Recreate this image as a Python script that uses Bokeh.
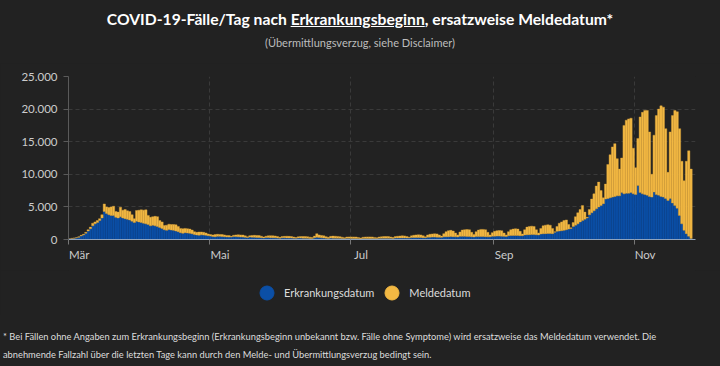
import pandas as pd
from bokeh.plotting import figure
from bokeh.models import (ColumnDataSource, FixedTicker, Range1d, Legend,
                          LegendItem, Div)
from bokeh.layouts import column
from bokeh.embed import file_html
from bokeh.resources import INLINE

# ---------------- data ----------------
start_date = "2020-03-01"

# cases with known onset date (blue, bottom of stack)
erkrankung = [
    100, 150, 200, 260, 360, 550, 700,
    950, 1300, 1650, 2100, 2400, 2600, 2900,
    3300, 4300, 4000, 3800, 3700, 3700, 3400,
    3300, 3500, 3300, 3200, 3100, 3000, 2800,
    2600, 2800, 2700, 2600, 2500, 2400, 2300,
    2100, 2200, 2100, 2000, 1850, 1700, 1500,
    1400, 1550, 1450, 1400, 1300, 1200, 1050,
    950, 1050, 1000, 950, 880, 780, 700,
    650, 720, 680, 640, 580, 520, 460,
    430, 500, 480, 460, 430, 400, 370,
    380, 470, 450, 420, 400, 370, 330,
    300, 380, 360, 340, 320, 300, 270,
    240, 310, 300, 280, 270, 250, 220,
    200, 260, 250, 240, 230, 220, 200,
    180, 230, 220, 210, 200, 190, 170,
    170, 260, 350, 300, 250, 220, 190,
    170, 220, 210, 200, 190, 180, 160,
    150, 190, 180, 170, 160, 150, 140,
    130, 170, 170, 170, 160, 160, 150,
    140, 180, 180, 190, 190, 190, 180,
    170, 220, 230, 240, 240, 240, 230,
    220, 290, 300, 310, 310, 300, 280,
    270, 350, 360, 370, 370, 360, 340,
    330, 420, 430, 440, 450, 440, 410,
    400, 480, 480, 480, 470, 460, 420,
    400, 470, 470, 460, 450, 440, 410,
    420, 500, 510, 520, 520, 510, 480,
    470, 580, 600, 620, 630, 620, 590,
    580, 700, 720, 740, 750, 750, 720,
    700, 850, 880, 900, 920, 930, 900,
    1100, 1250, 1300, 1350, 1400, 1500, 1600,
    1700, 2000, 2200, 2400, 2700, 2900, 3100,
    3300, 3800, 4100, 4400, 4700, 5000, 5200,
    5500, 6200, 6300, 6400, 6500, 6600, 6700,
    6700, 7200, 7000, 7100, 7100, 7200, 7000,
    6900, 8300, 7200, 7000, 6900, 6800, 6600,
    6500, 7300, 6900, 6800, 6600, 6500, 6300,
    6000, 6300, 5600, 5200, 4800, 3700, 2400,
    1400, 900, 500, 150,
]

# total cases per day (top of the yellow "Meldedatum" part)
gesamt = [
    120, 180, 230, 300, 420, 650, 800,
    1100, 1500, 1900, 2500, 2700, 2900, 3200,
    3800, 5450, 5000, 4900, 5000, 5100, 4300,
    4200, 4950, 4500, 4600, 4400, 4300, 3800,
    3200, 4450, 4500, 4550, 4500, 4550, 3700,
    3400, 3500, 3550, 3500, 2900, 2700, 2150,
    2200, 2350, 2300, 2300, 2250, 2000, 1700,
    1650, 1700, 1650, 1600, 1450, 1200, 1100,
    1150, 1150, 1100, 1000, 850, 750, 700,
    750, 800, 780, 760, 700, 620, 600,
    480, 650, 700, 720, 700, 680, 560,
    420, 580, 620, 640, 620, 600, 500,
    380, 500, 560, 580, 560, 540, 450,
    330, 450, 480, 500, 480, 460, 380,
    300, 420, 450, 460, 450, 430, 360,
    320, 520, 880, 700, 620, 560, 440,
    330, 480, 520, 500, 470, 440, 350,
    260, 380, 400, 400, 390, 380, 300,
    230, 340, 380, 400, 400, 390, 320,
    260, 380, 420, 450, 460, 450, 380,
    300, 450, 500, 540, 560, 550, 460,
    350, 560, 650, 700, 720, 700, 580,
    420, 700, 800, 850, 870, 860, 700,
    520, 900, 1200, 1350, 1400, 1300, 1000,
    700, 1150, 1450, 1500, 1530, 1500, 1100,
    750, 1200, 1450, 1550, 1550, 1500, 1100,
    700, 1050, 1250, 1350, 1380, 1350, 1000,
    700, 1200, 1500, 1600, 1650, 1600, 1250,
    850, 1500, 1900, 2000, 2050, 2000, 1500,
    1000, 1700, 2100, 2200, 2250, 2200, 1700,
    1200, 2000, 2500, 2700, 2900, 3000, 2300,
    1800, 2600, 3500, 4100, 4600, 5200, 4200,
    3400, 4600, 6200, 7000, 8200, 8800, 7500,
    6400, 8500, 11500, 13000, 14200, 14700, 12400,
    10800, 12500, 17500, 18300, 18500, 18600, 14000,
    11000, 15500, 18800, 19500, 19800, 19800, 16500,
    10000, 16000, 19000, 20000, 20500, 20300, 17000,
    10300, 16500, 19000, 19800, 19600, 17000, 12000,
    9000, 12000, 13600, 10800,
]

month_ticks = ["2020-03-01", "2020-05-01", "2020-07-01", "2020-09-01", "2020-11-01"]
month_labels = ["Mär", "Mai", "Jul", "Sep", "Nov"]
y_ticks = [0, 5000, 10000, 15000, 20000, 25000]
y_labels = ["0", "5.000", "10.000", "15.000", "20.000", "25.000"]

series_names = ["Erkrankungsdatum", "Meldedatum"]
title_pre = "COVID-19-Fälle/Tag nach "
title_link = "Erkrankungsbeginn"
title_post = ", ersatzweise Meldedatum*"
subtitle = "(Übermittlungsverzug, siehe Disclaimer)"
footnote_1 = ("* Bei Fällen ohne Angaben zum Erkrankungsbeginn (Erkrankungsbeginn unbekannt bzw. "
              "Fälle ohne Symptome) wird ersatzweise das Meldedatum verwendet. Die")
footnote_2 = "abnehmende Fallzahl über die letzten Tage kann durch den Melde- und Übermittlungsverzug bedingt sein."

# ---------------- styling ----------------
BG = "#222222"
BLUE = "#0b4fa6"
YELLOW = "#f2b843"
FONT = "Lato"
DAY_MS = 24 * 60 * 60 * 1000
LABEL_SHIFT_DAYS = 4.6   # month labels sit to the right of their tick

dates = pd.date_range(start_date, periods=len(gesamt), freq="D") + pd.Timedelta(hours=12)
src = ColumnDataSource(dict(datum=dates, erkrankung=erkrankung, gesamt=gesamt))

p = figure(width=720, height=207, x_axis_type="datetime",
           x_range=Range1d(pd.Timestamp("2020-03-01"), pd.Timestamp("2020-11-27 10:00")),
           y_range=Range1d(0, 25000),
           output_backend="svg", toolbar_location=None,
           background_fill_color=BG, border_fill_color=BG, outline_line_color=None,
           min_border_left=68, min_border_right=25, min_border_top=13, min_border_bottom=31)

p.vbar(x="datum", width=DAY_MS, bottom=0, top="erkrankung", source=src,
       fill_color=BLUE, line_color="#0a4594", line_width=0.4)
p.vbar(x="datum", width=DAY_MS, bottom="erkrankung", top="gesamt", source=src,
       fill_color=YELLOW, line_color="#dba23a", line_width=0.4)

# x axis: tick marks + grid at month starts, labels just right of them
tick_ms = [pd.Timestamp(d).value // 10**6 for d in month_ticks]
label_ms = [int(t + LABEL_SHIFT_DAYS * DAY_MS) for t in tick_ms]
p.xaxis.ticker = FixedTicker(ticks=label_ms, minor_ticks=tick_ms)
p.xaxis.major_label_overrides = {t: lab for t, lab in zip(label_ms, month_labels)}
p.xgrid.ticker = FixedTicker(ticks=tick_ms)
p.xaxis.axis_line_color = "#8fa3bd"
p.xaxis.major_tick_line_color = None
p.xaxis.major_tick_out = 5
p.xaxis.major_tick_in = 0
p.xaxis.minor_tick_line_color = "#777777"
p.xaxis.minor_tick_out = 5
p.xaxis.minor_tick_in = 0
p.xaxis.major_label_standoff = 3

# y axis
p.yaxis.ticker = FixedTicker(ticks=y_ticks)
p.yaxis.major_label_overrides = {t: lab for t, lab in zip(y_ticks, y_labels)}
p.yaxis.axis_line_color = "#5a5a5a"
p.yaxis.major_tick_line_color = "#5a5a5a"
p.yaxis.major_tick_out = 5
p.yaxis.major_tick_in = 0
p.yaxis.minor_tick_line_color = None
p.yaxis.major_label_standoff = 6

for ax in (p.xaxis, p.yaxis):
    ax.major_label_text_color = "#cccccc"
    ax.major_label_text_font = FONT
    ax.major_label_text_font_size = "11.5px"

for g in (p.xgrid, p.ygrid):
    g.grid_line_color = "#3a3a3a"
    g.grid_line_dash = "4 3"
    g.grid_line_width = 1

# legend strip (own small figure so the legend is not clipped);
# the two marker renderers hold one point outside the strip's visible range
lg = figure(width=720, height=45, x_range=Range1d(0, 1), y_range=Range1d(0, 1),
            output_backend="svg", toolbar_location=None,
            x_axis_location=None, y_axis_location=None,
            background_fill_color=BG, border_fill_color=BG, outline_line_color=None,
            min_border_left=0, min_border_right=0, min_border_top=0, min_border_bottom=0)
lg.xgrid.visible = False
lg.ygrid.visible = False
r1 = lg.scatter(x=[0.5], y=[-5], marker="circle", size=14, fill_color=BLUE, line_color=BLUE)
r2 = lg.scatter(x=[0.5], y=[-5], marker="circle", size=14, fill_color=YELLOW, line_color=YELLOW)
legend = Legend(items=[LegendItem(label=series_names[0], renderers=[r1]),
                       LegendItem(label=series_names[1], renderers=[r2])],
                location=(181, 5), orientation="horizontal",
                glyph_width=35, glyph_height=35, label_standoff=0, spacing=0,
                padding=0, margin=0, background_fill_alpha=0, border_line_color=None,
                label_text_color="#dddddd", label_text_font=FONT,
                label_text_font_size="11px")
lg.add_layout(legend, "center")

title_html = (
    '<div style="position:relative;width:720px;height:63px;">'
    '<div style="position:absolute;top:10px;left:0;width:720px;text-align:center;'
    f'line-height:18px;font-family:{FONT};font-weight:bold;font-size:15.7px;color:#ffffff;">'
    f'{title_pre}<span style="text-decoration:underline;">{title_link}</span>{title_post}</div>'
    '<div style="position:absolute;top:36px;left:0;width:720px;text-align:center;'
    f'line-height:14px;font-family:{FONT};font-size:11px;color:#bdbdbd;">{subtitle}</div>'
    '</div>'
)
title_div = Div(text=title_html, width=720, height=63, margin=0,
                styles={"background-color": BG})

foot_html = (
    '<div style="padding-left:3px;padding-top:13px;white-space:nowrap;'
    f'line-height:18px;font-family:{FONT};font-size:9.3px;color:#dddddd;">'
    f'{footnote_1}<br>{footnote_2}</div>'
)
foot_div = Div(text=foot_html, width=720, height=51, margin=0,
               styles={"background-color": BG})

layout = column(title_div, p, lg, foot_div, spacing=0, margin=0,
                styles={"background-color": BG})

template = ("{% block postamble %}<style>html, body { background-color: #222222; }"
            "</style>{% endblock %}")
open("out.html", "w").write(file_html(layout, INLINE, template=template))
